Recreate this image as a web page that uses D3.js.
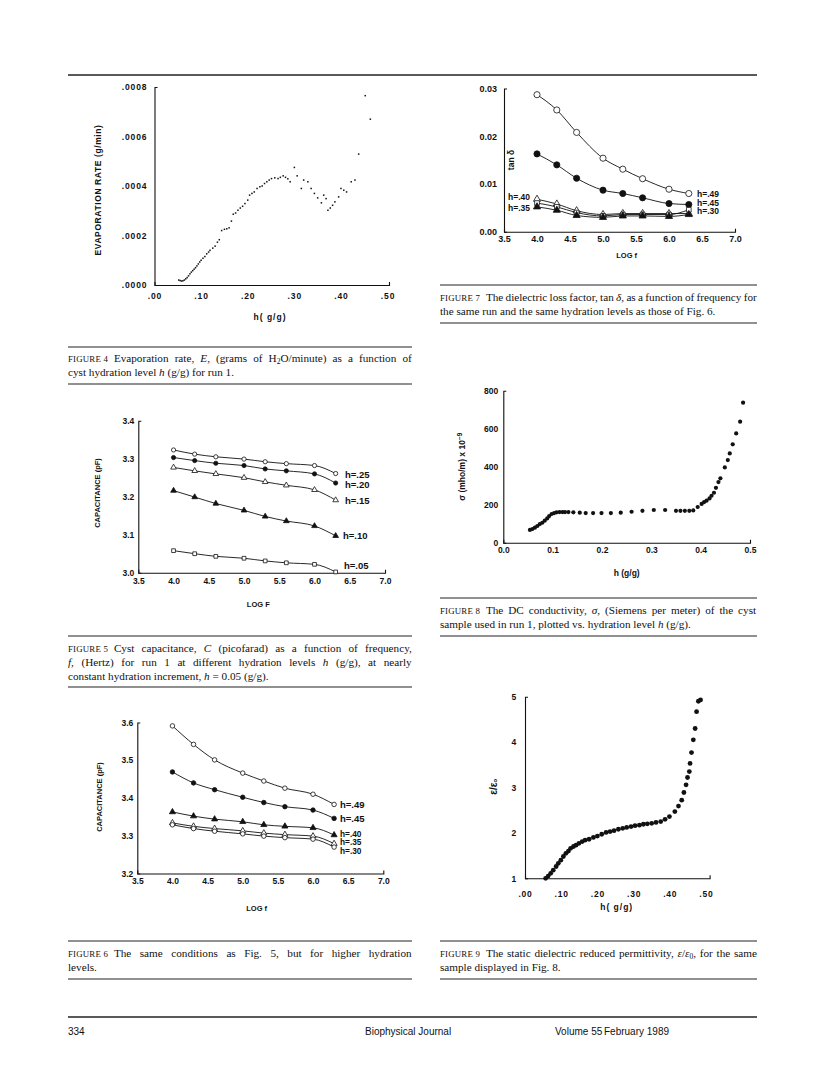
<!DOCTYPE html>
<html><head><meta charset="utf-8">
<script src="https://cdn.jsdelivr.net/npm/d3@7"></script>
<style>body{margin:0;background:#fff}</style>
</head><body>
<script>
// ---------------- DATA ----------------
// Figure 4: evaporation rate vs hydration
const fig4H = [.052,.055,.058,.061,.064,.067,.070,.073,.076,.079,.082,.085,.088,.091,.094,.097,.100,.104,.108,.112,.116,.119,.125,.130,.135,.139,.144,.150,.155,.160,.165,.169,.174,.179,.184,.189,.194,.200,.204,.209,.214,.220,.226,.231,.236,.241,.246,.251,.258,.265,.270,.276,.281,.286,.291,.300,.306,.315,.320,.329,.336,.343,.350,.358,.363,.368,.372,.377,.382,.387,.395,.400,.406,.412,.422,.430,.438,.452,.463];
const fig4E = [.00002,.000018,.000016,.000017,.00002,.000025,.00003,.000037,.000045,.000052,.000058,.000064,.00007,.000077,.000085,.000093,.0001,.000108,.000115,.000126,.000133,.00014,.000149,.000157,.000173,.000183,.00022,.000225,.000227,.000231,.000258,.000286,.000291,.000302,.000311,.000318,.000329,.000343,.000363,.00037,.000376,.00039,.000397,.0004,.00041,.000417,.000424,.00043,.000433,.00043,.000435,.000441,.000435,.000429,.000417,.000475,.000441,.00039,.000424,.000417,.00039,.00037,.000352,.000332,.000363,.000349,.000302,.000311,.000322,.000336,.000356,.00039,.000383,.000376,.000417,.000424,.000529,.000765,.00067];
const fig4XTicks = [0,.1,.2,.3,.4,.5];
const fig4XLabels = [".00",".10",".20",".30",".40",".50"];
const fig4YTicks = [0,.0002,.0004,.0006,.0008];
const fig4YLabels = [".0000",".0002",".0004",".0006",".0008"];

// Figures 5,6,7: frequency sweeps
const logF = [4.0,4.3,4.6,5.0,5.3,5.6,6.0,6.3];
const freqTicks = [3.5,4.0,4.5,5.0,5.5,6.0,6.5,7.0];
const freqLabels = ["3.5","4.0","4.5","5.0","5.5","6.0","6.5","7.0"];

// Figure 5 capacitance (pF)
const fig5_h25 = [3.323,3.312,3.305,3.299,3.292,3.287,3.282,3.261];
const fig5_h20 = [3.303,3.295,3.288,3.282,3.273,3.268,3.260,3.236];
const fig5_h15 = [3.277,3.268,3.260,3.250,3.239,3.230,3.218,3.191];
const fig5_h10 = [3.216,3.199,3.182,3.164,3.148,3.136,3.123,3.097];
const fig5_h05 = [3.058,3.050,3.043,3.038,3.031,3.026,3.022,3.002];
const fig5Names = ["h=.25","h=.20","h=.15","h=.10","h=.05"];
const fig5YTicks = [3.0,3.1,3.2,3.3,3.4];
const fig5YLabels = ["3.0","3.1","3.2","3.3","3.4"];

// Figure 6 capacitance (pF)
const fig6_h49 = [3.591,3.542,3.501,3.466,3.445,3.426,3.410,3.383];
const fig6_h45 = [3.469,3.440,3.422,3.402,3.388,3.377,3.368,3.346];
const fig6_h40 = [3.363,3.352,3.344,3.337,3.329,3.325,3.321,3.302];
const fig6_h35 = [3.334,3.325,3.319,3.313,3.307,3.303,3.299,3.279];
const fig6_h30 = [3.329,3.319,3.312,3.305,3.299,3.295,3.291,3.270];
const fig6Names = ["h=.49","h=.45","h=.40","h=.35","h=.30"];
const fig6YTicks = [3.2,3.3,3.4,3.5,3.6];
const fig6YLabels = ["3.2","3.3","3.4","3.5","3.6"];

// Figure 7 tan delta
const fig7_h49 = [.0287,.0255,.0208,.0154,.0131,.0111,.0089,.0080];
const fig7_h45 = [.0163,.0140,.0112,.0087,.0080,.0071,.0059,.0057];
const fig7_h40 = [.0068,.0058,.0044,.0036,.0038,.0038,.0038,.0038];
const fig7_h30 = [.0060,.0052,.0040,.0033,.0036,.0036,.0036,.0046];
const fig7_h35 = [.0052,.0045,.0034,.0030,.0033,.0033,.0032,.0036];
const fig7Names = ["h=.49","h=.45","h=.40","h=.30","h=.35"];
const fig7YTicks = [0,.01,.02,.03];
const fig7YLabels = ["0.00","0.01","0.02","0.03"];

// Figure 8 DC conductivity
const fig8H = [.054,.059,.064,.069,.074,.079,.084,.089,.093,.098,.103,.108,.114,.120,.125,.132,.142,.155,.167,.182,.199,.218,.238,.260,.282,.305,.328,.350,.359,.368,.377,.385,.394,.402,.407,.412,.418,.422,.427,.431,.436,.440,.449,.455,.459,.465,.472,.480,.486];
const fig8S = [67,72,79,88,98,105,116,128,140,151,156,160,161,161,161,161,160,158,156,156,156,156,158,163,168,172,172,168,168,168,168,170,188,204,214,221,233,247,263,289,319,339,396,435,470,518,575,637,737];
const fig8XTicks = [0,.1,.2,.3,.4,.5];
const fig8XLabels = ["0.0","0.1","0.2","0.3","0.4","0.5"];
const fig8YTicks = [0,200,400,600,800];
const fig8YLabels = ["0","200","400","600","800"];

// Figure 9 reduced permittivity
const fig9H = [.057,.064,.071,.078,.086,.092,.099,.106,.113,.120,.126,.134,.141,.149,.158,.166,.177,.189,.200,.212,.224,.235,.246,.258,.270,.281,.293,.304,.316,.327,.338,.350,.362,.375,.387,.399,.414,.424,.433,.439,.445,.449,.454,.456,.460,.465,.470,.474,.479,.485];
const fig9E = [1.00,1.05,1.11,1.18,1.26,1.33,1.40,1.48,1.55,1.60,1.66,1.70,1.73,1.77,1.81,1.84,1.86,1.90,1.93,1.97,2.01,2.03,2.05,2.08,2.10,2.12,2.14,2.16,2.17,2.19,2.20,2.21,2.23,2.25,2.30,2.36,2.47,2.59,2.72,2.89,3.06,3.22,3.35,3.53,3.77,4.05,4.30,4.67,4.90,4.93];
const fig9XTicks = [0,.1,.2,.3,.4,.5];
const fig9XLabels = [".00",".10",".20",".30",".40",".50"];
const fig9YTicks = [1,2,3,4,5];
const fig9YLabels = ["1","2","3","4","5"];

// ---------------- DRAWING ----------------
const svg = d3.select("body").append("svg").attr("width",816).attr("height",1090)
  .style("font-family","'Liberation Sans', Arial, sans-serif");

function axes(g, x, y, o) {
  const xa = d3.axisBottom(x).tickValues(o.xTicks).tickFormat((d,i)=>o.xLabels[i])
    .tickSizeInner(0).tickSizeOuter(-3).tickPadding(o.xPad);
  const ya = d3.axisLeft(y).tickValues(o.yTicks).tickFormat((d,i)=>o.yLabels[i])
    .tickSizeInner(0).tickSizeOuter(-3).tickPadding(o.yPad);
  const gx = g.append("g").attr("transform",`translate(0,${y.range()[0]})`).call(xa);
  const gy = g.append("g").attr("transform",`translate(${x.range()[0]},0)`).call(ya);
  [gx,gy].forEach(a=>{
    a.attr("font-size",null).attr("font-family",null);
    a.select(".domain").attr("stroke","#111").attr("stroke-width",1.1);
    a.selectAll("text").attr("fill","#111").style("font-size",o.fs+"px")
      .style("font-weight",o.fw).style("letter-spacing",(o.ls||0)+"px");
  });
}
function label(g, txt, cx, cy, o) {
  const t = g.append("text").attr("x",cx).attr("y",cy).attr("text-anchor",o.anchor||"middle")
    .attr("dominant-baseline","central").attr("fill","#111")
    .style("font-size",o.fs+"px").style("font-weight",o.fw||"bold").style("letter-spacing",(o.ls||0)+"px");
  if (o.rot) t.attr("transform",`rotate(-90,${cx},${cy})`);
  t.text(txt);
  return t;
}
function markers(g, x, y, xs, ys, kind, size) {
  const typ = {oc:d3.symbolCircle, fc:d3.symbolCircle, ot:d3.symbolTriangle, ft:d3.symbolTriangle, os:d3.symbolSquare}[kind];
  const open = kind[0]==="o";
  g.selectAll(null).data(xs).join("path")
    .attr("d", d3.symbol().type(typ).size(size))
    .attr("transform",(d,i)=>`translate(${x(d)},${y(ys[i])})`)
    .attr("fill", open ? "#fff" : "#111").attr("stroke","#111").attr("stroke-width",0.8);
}
function series(g, x, y, xs, ys, kind, size) {
  const line = d3.line().x(d=>x(d[0])).y(d=>y(d[1])).curve(d3.curveMonotoneX);
  g.append("path").attr("d", line(xs.map((d,i)=>[d,ys[i]])))
    .attr("fill","none").attr("stroke","#111").attr("stroke-width",0.9);
  markers(g, x, y, xs, ys, kind, size);
}

// ---- Figure 4 ----
{
  const g = svg.append("g");
  const x = d3.scaleLinear().domain([0,.503]).range([154.5,389]);
  const y = d3.scaleLinear().domain([0,.0008]).range([285,87]);
  axes(g,x,y,{xTicks:fig4XTicks,xLabels:fig4XLabels,yTicks:fig4YTicks,yLabels:fig4YLabels,xPad:8,yPad:7,fs:8.5,fw:"600",ls:0.9});
  g.selectAll(null).data(fig4H).join("rect")
    .attr("x",(d)=>x(d)-0.75).attr("y",(d,i)=>y(fig4E[i])-0.75).attr("width",1.5).attr("height",1.5).attr("fill","#111");
  label(g,"h( g/g)",270,317,{fs:8.5,ls:1,fw:"600"});
  label(g,"EVAPORATION RATE (g/min)",98,190,{fs:8.5,ls:0.6,fw:"600",rot:true});
}

// ---- Figure 7 ----
{
  const g = svg.append("g");
  const x = d3.scaleLinear().domain([3.5,7.0]).range([504,735]);
  const y = d3.scaleLinear().domain([0,.03]).range([231.7,88.5]);
  axes(g,x,y,{xTicks:freqTicks,xLabels:freqLabels,yTicks:fig7YTicks,yLabels:fig7YLabels,xPad:4,yPad:7,fs:9,fw:"bold"});
  const data = [fig7_h49,fig7_h45,fig7_h40,fig7_h30,fig7_h35];
  const kinds = ["oc","fc","ot","os","ft"];
  data.forEach((s,i)=>series(g,x,y,logF,s,kinds[i],i<2?30:22));
  label(g,fig7Names[0],697,193.5,{fs:8.5,anchor:"start"});
  label(g,fig7Names[1],697,202.5,{fs:8.5,anchor:"start"});
  label(g,fig7Names[3],697,211,{fs:8.5,anchor:"start"});
  label(g,fig7Names[2],508,197.3,{fs:8.5,anchor:"start"});
  label(g,fig7Names[4],508,208.3,{fs:8.5,anchor:"start"});
  label(g,"LOG f",626.7,255,{fs:7.5});
  label(g,"tan δ",511,160,{fs:8.5,rot:true});
}

// ---- Figure 5 ----
{
  const g = svg.append("g");
  const x = d3.scaleLinear().domain([3.5,7.0]).range([138.3,385]);
  const y = d3.scaleLinear().domain([3.0,3.4]).range([572.7,420.7]);
  axes(g,x,y,{xTicks:freqTicks,xLabels:freqLabels,yTicks:fig5YTicks,yLabels:fig5YLabels,xPad:5,yPad:4,fs:8.5,fw:"bold"});
  const data = [fig5_h25,fig5_h20,fig5_h15,fig5_h10,fig5_h05];
  const kinds = ["oc","fc","ot","ft","os"];
  data.forEach((s,i)=>series(g,x,y,logF,s,kinds[i],14));
  const ly = [474,484.3,500.7,535.3,565];
  const lx = [345,345,345,343,344];
  fig5Names.forEach((n,i)=>label(g,n,lx[i],ly[i],{fs:9.5,anchor:"start",fw:"600"}));
  label(g,"LOG F",258.3,604,{fs:7.5});
  label(g,"CAPACITANCE (pF)",97.3,493,{fs:7.5,rot:true});
}

// ---- Figure 8 ----
{
  const g = svg.append("g");
  const x = d3.scaleLinear().domain([0,.5]).range([503.3,750]);
  const y = d3.scaleLinear().domain([0,800]).range([542.7,390.7]);
  axes(g,x,y,{xTicks:fig8XTicks,xLabels:fig8XLabels,yTicks:fig8YTicks,yLabels:fig8YLabels,xPad:4,yPad:5,fs:8.5,fw:"bold"});
  g.selectAll(null).data(fig8H).join("circle")
    .attr("cx",d=>x(d)).attr("cy",(d,i)=>y(fig8S[i])).attr("r",2.1).attr("fill","#111");
  label(g,"h (g/g)",626.7,572.7,{fs:8.5,fw:"600"});
  const t = g.append("text").attr("transform","translate(461.7,466.7) rotate(-90)")
    .attr("text-anchor","middle").attr("dominant-baseline","central").attr("fill","#111")
    .style("font-size","8.5px").style("font-weight","600");
  t.append("tspan").text("σ (mho/m) x 10");
  t.append("tspan").attr("dy","-3").style("font-size","6.5px").text("−9");
}

// ---- Figure 6 ----
{
  const g = svg.append("g");
  const x = d3.scaleLinear().domain([3.5,7.0]).range([137.3,383.3]);
  const y = d3.scaleLinear().domain([3.2,3.6]).range([873.5,722.5]);
  axes(g,x,y,{xTicks:freqTicks,xLabels:freqLabels,yTicks:fig6YTicks,yLabels:fig6YLabels,xPad:4,yPad:4,fs:8.5,fw:"bold"});
  const data = [fig6_h49,fig6_h45,fig6_h40,fig6_h35,fig6_h30];
  const kinds = ["oc","fc","ft","ot","oc"];
  data.forEach((s,i)=>series(g,x,y,logF,s,kinds[i],16));
  const ly = [804,818.3,833.6,842.3,851];
  fig6Names.forEach((n,i)=>label(g,n,340,ly[i],{fs:i>=2?8.3:9.5,anchor:"start",fw:"600"}));
  label(g,"LOG f",256.7,908,{fs:7.5});
  label(g,"CAPACITANCE (pF)",99.3,797,{fs:7.5,rot:true});
}

// ---- Figure 9 ----
{
  const g = svg.append("g");
  const x = d3.scaleLinear().domain([0,.51]).range([525,709.6]);
  const y = d3.scaleLinear().domain([1,5]).range([878.3,696.7]);
  axes(g,x,y,{xTicks:fig9XTicks,xLabels:fig9XLabels,yTicks:fig9YTicks,yLabels:fig9YLabels,xPad:13,yPad:8,fs:8.5,fw:"bold",ls:0.8});
  g.selectAll(null).data(fig9H).join("circle")
    .attr("cx",d=>x(d)).attr("cy",(d,i)=>y(fig9E[i])).attr("r",2.4).attr("fill","#111");
  label(g,"h( g/g)",616.7,906.7,{fs:8.5,ls:1});
  const t = g.append("text").attr("transform","translate(493.3,786.7) rotate(-90)")
    .attr("text-anchor","middle").attr("dominant-baseline","central").attr("fill","#111")
    .style("font-size","10px").style("font-weight","bold");
  t.append("tspan").text("ε/ε");
  t.append("tspan").attr("dy","2").style("font-size","6px").text("o");
}

// ---------------- CAPTIONS, RULES, FOOTER ----------------
function rule(x1,x2,y,w){ svg.append("line").attr("x1",x1).attr("x2",x2).attr("y1",y).attr("y2",y)
  .attr("stroke","#222").attr("stroke-width",w||1.2); }
// Caption line: text split into word tspans; justified lines get extra dx after each space.
function capLine(x, yc, width, segs, justify, fig) {
  const t = svg.append("text").attr("x",x).attr("y",yc+3.8).attr("fill","#111")
    .style("font-family","'Liberation Serif', 'Times New Roman', serif").style("font-size","11.2px");
  if (fig) {
    t.append("tspan").style("font-size","8.8px").style("letter-spacing","0.2px").text("FIGURE");
    t.append("tspan").attr("dx",2.5).style("font-size","8.8px").text(fig);
  }
  const gapSpans = [];
  let prevEndsSpace = false;
  segs.forEach((s,i)=>{
    const pieces = s.t.split(" ");
    pieces.forEach((p,j)=>{
      const last = j===pieces.length-1;
      const txt = last ? p : p + " ";
      if (txt === "") return;
      const sp = t.append("tspan").text(txt);
      if (s.it) sp.style("font-style","italic");
      if (s.sub) sp.style("font-size","7.5px");
      if (j===0 && s.sub) sp.attr("dy","2.5");
      if (j===0 && s.rise) sp.attr("dy","-2.5");
      if (fig && i===0 && j===0) sp.attr("dx",6);
      else if (prevEndsSpace) gapSpans.push(sp);
      prevEndsSpace = !last || (txt.endsWith(" "));
    });
  });
  if (justify && gapSpans.length) {
    const len = t.node().getBBox().width;
    const ws = (width - len) / gapSpans.length;
    gapSpans.forEach(sp=>sp.attr("dx", ws));
  }
}
const L = 68, LW = 344, R = 440, RW = 317;
rule(68,757,75,1.3);

// Fig 4 caption
rule(L,L+LW,347);
capLine(L,358,LW,[{t:"Evaporation rate, "},{t:"E",it:true},{t:", (grams of H"},{t:"2",sub:true},{t:"O/minute) as a function of",rise:true}],true,"4");
capLine(L,372,LW,[{t:"cyst hydration level "},{t:"h",it:true},{t:" (g/g) for run 1."}],false);
rule(L,L+LW,384);

// Fig 7 caption
rule(R,R+RW,285);
capLine(R,297,RW,[{t:"The dielectric loss factor, tan "},{t:"δ",it:true},{t:", as a function of frequency for"}],true,"7");
capLine(R,311,RW,[{t:"the same run and the same hydration levels as those of Fig. 6."}],false);
rule(R,R+RW,323);

// Fig 5 caption
rule(L,L+LW,636);
capLine(L,648,LW,[{t:"Cyst capacitance, "},{t:"C",it:true},{t:" (picofarad) as a function of frequency,"}],true,"5");
capLine(L,662,LW,[{t:"f",it:true},{t:", (Hertz) for run 1 at different hydration levels "},{t:"h",it:true},{t:" (g/g), at nearly"}],true);
capLine(L,676,LW,[{t:"constant hydration increment, "},{t:"h",it:true},{t:" = 0.05 (g/g)."}],false);
rule(L,L+LW,687);

// Fig 8 caption
rule(R,R+RW,598);
capLine(R,610,RW,[{t:"The DC conductivity, "},{t:"σ",it:true},{t:", (Siemens per meter) of the cyst"}],true,"8");
capLine(R,624,RW,[{t:"sample used in run 1, plotted vs. hydration level "},{t:"h",it:true},{t:" (g/g)."}],false);
rule(R,R+RW,636);

// Fig 6 caption
rule(L,L+LW,941);
capLine(L,953,LW,[{t:"The same conditions as Fig. 5, but for higher hydration"}],true,"6");
capLine(L,967,LW,[{t:"levels."}],false);
rule(L,L+LW,979);

// Fig 9 caption
rule(R,R+RW,941);
capLine(R,953,RW,[{t:"The static dielectric reduced permittivity, "},{t:"ε",it:true},{t:"/"},{t:"ε",it:true},{t:"0",sub:true},{t:", for the same",rise:true}],true,"9");
capLine(R,967,RW,[{t:"sample displayed in Fig. 8."}],false);
rule(R,R+RW,979);

// Footer
rule(68,757,1017,1.3);
const foot = (x,t)=>svg.append("text").attr("x",x).attr("y",1035).attr("fill","#111")
  .style("font-family","'Liberation Sans Narrow','Liberation Sans',Arial,sans-serif").style("font-size","10px").text(t);
foot(68,"334"); foot(365,"Biophysical Journal"); foot(555,"Volume 55"); foot(604,"February 1989");
</script>
</body></html>
